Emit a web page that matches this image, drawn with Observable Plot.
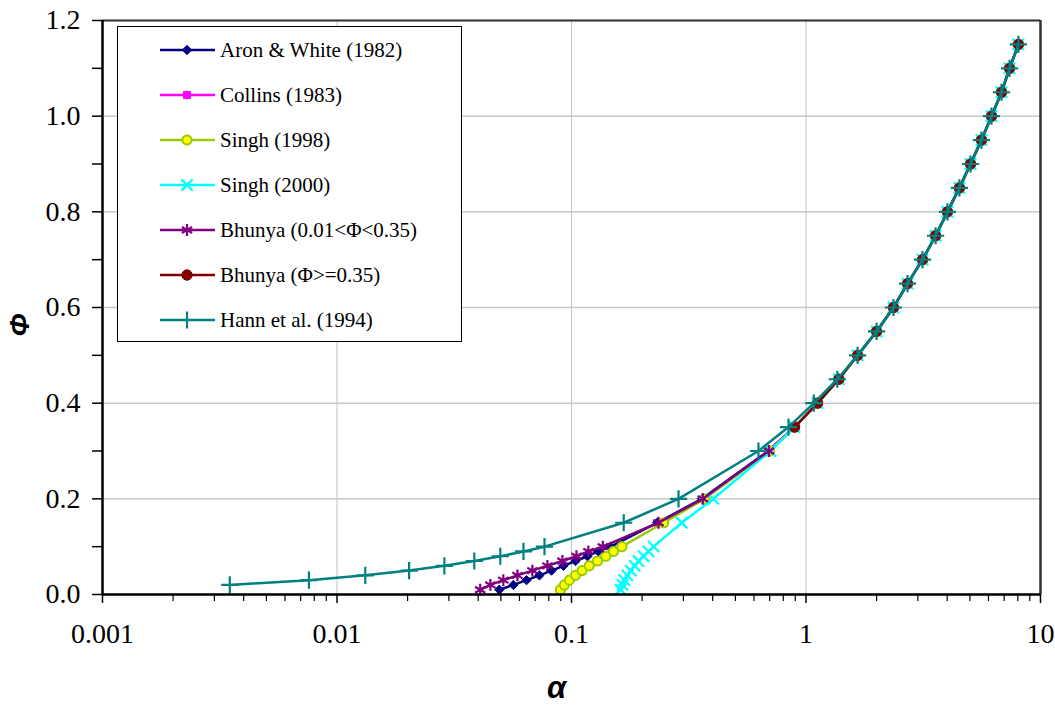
<!DOCTYPE html>
<html><head><meta charset="utf-8">
<script src="https://cdn.jsdelivr.net/npm/d3@7"></script>
<script src="https://cdn.jsdelivr.net/npm/@observablehq/plot@0.6"></script>
<style>
body{margin:0;background:#fff;}
#wrap{position:relative;width:1055px;height:708px;}
#legend{position:absolute;left:117px;top:26px;}
.axtitle{position:absolute;font-family:"Liberation Sans",Arial,sans-serif;font-weight:bold;font-style:italic;color:#000;line-height:1;}
</style></head><body><div id="wrap"></div>
<script>
// Φ values
const phiLow = [0.01,0.02,0.03,0.04,0.05,0.06,0.07,0.08,0.09,0.10,0.15,0.20,0.30];
const phiHigh = [0.35,0.40,0.45,0.50,0.55,0.60,0.65,0.70,0.75,0.80,0.85,0.90,0.95,1.00,1.05,1.10,1.15];
const phiHann = [0.02,0.03,0.04,0.05,0.06,0.07,0.08,0.09,0.10,0.15,0.20,0.30].concat(phiHigh);

// α values
const alphaHigh = [0.894,1.12,1.38,1.66,2.00,2.36,2.71,3.14,3.57,4.01,4.51,5.03,5.60,6.18,6.82,7.38,8.05];
const alphaAron = [0.0492,0.0565,0.0643,0.0730,0.0822,0.0924,0.104,0.117,0.130,0.147,0.232,0.360,0.690];
const alphaCollins = [0.690];
const alphaSingh98 = [0.0897,0.0933,0.098,0.104,0.111,0.119,0.129,0.140,0.151,0.164,0.247,0.370,0.700];
const alphaSingh00 = [0.162,0.165,0.168,0.173,0.179,0.186,0.193,0.203,0.213,0.224,0.295,0.403,0.706];
const alphaBhunya1 = [0.0408,0.0451,0.0512,0.0588,0.0681,0.0789,0.0915,0.105,0.118,0.136,0.235,0.363,0.695];
const alphaHann = [0.00349,0.00759,0.0132,0.0203,0.0287,0.0385,0.0497,0.0624,0.0767,0.167,0.286,0.627,
                   0.842,1.08,1.36,1.66,2.00,2.36,2.71,3.14,3.57,4.01,4.51,5.03,5.60,6.18,6.82,7.38,8.05];

const seriesNames = ["Aron & White (1982)","Collins (1983)","Singh (1998)","Singh (2000)",
  "Bhunya (0.01<Φ<0.35)","Bhunya (Φ>=0.35)","Hann et al. (1994)"];
const lineColors = ["#000080","#FF00FF","#99CC00","#00FFFF","#800080","#800000","#008080"];
const markerFills = ["#000080","#FF00FF","#FFFF00","none","none","#800000","none"];
const markerSymbols = ["diamond2","square","circle","times","asterisk","circle","plus"];
const markerR = [4.2,4.0,4.6,5.2,5.6,5.2,5.6];

const xTicks = [0.001,0.01,0.1,1,10];
const yTicks = [0,0.2,0.4,0.6,0.8,1.0,1.2];

const seriesData = [
  {alpha: alphaAron.concat(alphaHigh), phi: phiLow.concat(phiHigh)},
  {alpha: alphaCollins.concat(alphaHigh), phi: [0.30].concat(phiHigh)},
  {alpha: alphaSingh98.concat(alphaHigh), phi: phiLow.concat(phiHigh)},
  {alpha: alphaSingh00.concat(alphaHigh), phi: phiLow.concat(phiHigh)},
  {alpha: alphaBhunya1, phi: phiLow},
  {alpha: alphaHigh, phi: phiHigh},
  {alpha: alphaHann, phi: phiHann}
];

const minorX = [];
for (let e = -3; e < 1; e++) for (let m = 2; m <= 9; m++) minorX.push(+(m * Math.pow(10, e)).toPrecision(3));
const minorY = [0.1,0.3,0.5,0.7,0.9,1.1];

const marks = [
  Plot.gridX(xTicks, {stroke: "#c0c0c0", strokeOpacity: 1, strokeWidth: 1}),
  Plot.gridY(yTicks, {stroke: "#c8c8c8", strokeOpacity: 1, strokeWidth: 1.5}),
  Plot.ruleY([1.2], {stroke: "#333", strokeWidth: 2}),
  Plot.ruleX([10], {stroke: "#333", strokeWidth: 2.5})
];
seriesData.forEach((s, i) => {
  const rows = s.alpha.map((a, j) => ({alpha: a, phi: s.phi[j]}));
  marks.push(Plot.line(rows, {x: "alpha", y: "phi", stroke: lineColors[i], strokeWidth: 2.5}));
  const isStrokeOnly = markerFills[i] === "none";
  marks.push(Plot.dot(rows, {
    x: "alpha", y: "phi", symbol: markerSymbols[i], r: markerR[i],
    fill: markerFills[i],
    stroke: i === 2 ? "#99CC00" : lineColors[i],
    strokeWidth: isStrokeOnly ? 2.2 : (i === 2 ? 2 : 1)
  }));
});
marks.push(
  Plot.ruleY([0], {stroke: "#000", strokeWidth: 2.5}),
  Plot.ruleX([0.001], {stroke: "#000", strokeWidth: 2.5}),
  Plot.axisX({ticks: xTicks, tickSize: 9, tickPadding: 20, tickFormat: d => String(d),
    fontSize: 28, fontFamily: "Liberation Serif", stroke: "#000", strokeWidth: 1.5, label: null}),
  Plot.axisX({ticks: minorX, tickSize: 7, tickFormat: () => "", stroke: "#000", strokeWidth: 1.2, label: null}),
  Plot.axisY({ticks: yTicks, tickSize: 10, tickPadding: 12, tickFormat: d3.format(".1f"),
    fontSize: 28, fontFamily: "Liberation Serif", stroke: "#000", strokeWidth: 1.5, label: null}),
  Plot.axisY({ticks: minorY, tickSize: 10, tickFormat: () => "", stroke: "#000", strokeWidth: 1.5, label: null})
);

const chart = Plot.plot({
  width: 1055, height: 708,
  marginLeft: 102, marginRight: 15, marginTop: 20, marginBottom: 114,
  x: {type: "log", domain: [0.001, 10], label: null},
  y: {domain: [0, 1.2], label: null},
  style: {background: "#fff", overflow: "visible", color: "#000"},
  marks
});
const wrap = document.getElementById("wrap");
wrap.appendChild(chart);
d3.select(chart).selectAll("text")
  .filter(function() { return /^[0-9.]+$/.test(this.textContent.trim()); })
  .style("font-family", "'Liberation Serif', serif");

// axis titles
const xt = document.createElement("div");
xt.className = "axtitle"; xt.textContent = "α";
xt.style.cssText += "left:547px;top:672px;font-size:31px;";
wrap.appendChild(xt);
const yt = document.createElement("div");
yt.className = "axtitle"; yt.textContent = "Φ";
yt.style.cssText += "left:8px;top:311px;font-size:28px;transform:rotate(-90deg);transform-origin:50% 50%;";
wrap.appendChild(yt);

// Legend (inside plot area, as in the reference)
const lw = 345, lh = 316;
const legend = d3.select(wrap).append("svg").attr("id", "legend").attr("width", lw).attr("height", lh);
legend.append("rect").attr("x", 0.5).attr("y", 0.5).attr("width", lw - 1).attr("height", lh - 1)
  .attr("fill", "#fff").attr("stroke", "#000").attr("stroke-width", 1);
const symMap = {diamond2: d3.symbolDiamond2, square: d3.symbolSquare, circle: d3.symbolCircle,
  times: d3.symbolTimes, asterisk: d3.symbolAsterisk, plus: d3.symbolPlus};
seriesNames.forEach((name, i) => {
  const y = 24 + i * 45;
  const g = legend.append("g").attr("transform", `translate(0,${y})`);
  g.append("line").attr("x1", 43).attr("x2", 98).attr("y1", 0).attr("y2", 0)
    .attr("stroke", lineColors[i]).attr("stroke-width", 2.5);
  const isStrokeOnly = markerFills[i] === "none";
  g.append("path").attr("transform", "translate(70,0)")
    .attr("d", d3.symbol(symMap[markerSymbols[i]], markerR[i] * markerR[i] * Math.PI)())
    .attr("fill", markerFills[i]).attr("stroke", i === 2 ? "#99CC00" : lineColors[i])
    .attr("stroke-width", isStrokeOnly ? 2.2 : (i === 2 ? 2 : 1));
  g.append("text").attr("x", 103).attr("y", 0).attr("dy", "0.35em")
    .attr("font-family", "Liberation Serif").attr("font-size", 21).attr("fill", "#000").text(name);
});
</script></body></html>
